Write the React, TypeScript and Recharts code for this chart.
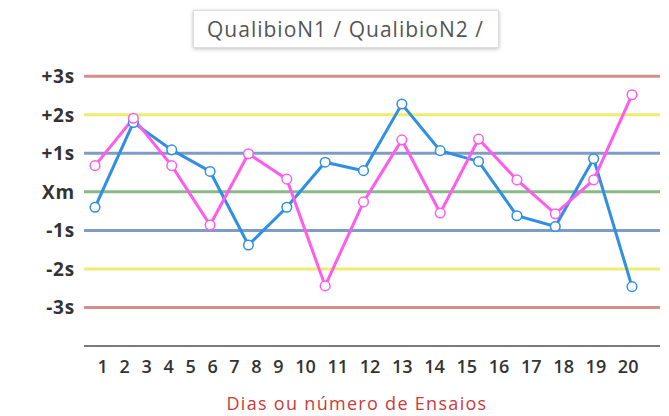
import React from 'react';
import { LineChart, Line, XAxis, YAxis, ReferenceLine, Legend } from 'recharts';

const runs = [1, 2, 3, 4, 5, 6, 7, 8, 9, 10, 11, 12, 13, 14, 15];
const qualibioN1 = [-0.4, 1.8, 1.09, 0.53, -1.38, -0.4, 0.77, 0.55, 2.28, 1.07, 0.79, -0.62, -0.9, 0.86, -2.46];
const qualibioN2 = [0.68, 1.91, 0.68, -0.86, 0.99, 0.33, -2.44, -0.26, 1.35, -0.55, 1.37, 0.31, -0.57, 0.31, 2.52];
const dayLabels = ['1', '2', '3', '4', '5', '6', '7', '8', '9', '10', '11', '12', '13', '14', '15', '16', '17', '18', '19', '20'];
const sdValues = [-3, -2, -1, 0, 1, 2, 3];
const sdLabels = ['-3s', '-2s', '-1s', 'Xm', '+1s', '+2s', '+3s'];
const sdColors = ['#d98c8c', '#f0ec72', '#7f9dc4', '#88ba88', '#7f9dc4', '#f0ec72', '#d98c8c'];
const seriesNames = ['QualibioN1', 'QualibioN2'];
const xTitle = 'Dias ou número de Ensaios';

const data = runs.map((r, i) => ({ run: r, n1: qualibioN1[i], n2: qualibioN2[i] }));
const dayLabelText = dayLabels.join(' ');

const FONT = '"Open Sans", "Noto Sans", sans-serif';

const DayTick = (props: any) => {
  const { x, y, payload } = props;
  return (
    <text
      x={x}
      y={y + 19}
      textAnchor="middle"
      fontFamily={FONT}
      fontSize={18}
      fontWeight={600}
      fill="#333"
      style={{ wordSpacing: '7px' }}
    >
      {payload.value}
    </text>
  );
};

const LegendBox = (props: any) => {
  const names = (props.payload || []).map((p: any) => p.value);
  return (
    <div
      style={{
        display: 'inline-block',
        background: '#fff',
        border: '1px solid #ddd',
        boxShadow: '0 1px 4px rgba(0,0,0,0.25)',
        padding: '5px 14px 5px 13px',
        fontFamily: FONT,
        fontSize: 21,
        letterSpacing: '1px',
        color: '#555',
        whiteSpace: 'nowrap',
        lineHeight: '26px',
      }}
    >
      {names.join(' / ') + ' /'}
    </div>
  );
};

export default function App() {
  return (
    <div style={{ position: 'absolute', left: 0, top: 0, width: 669, height: 416, background: '#fff' }}>
      <LineChart width={669} height={416} data={data} margin={{ top: 57, right: 9, bottom: 30, left: 0 }}>
        <XAxis xAxisId="pts" dataKey="run" hide padding={{ left: 11, right: 28 }} />
        <XAxis
          xAxisId="labels"
          dataKey={() => dayLabelText}
          allowDuplicatedCategory={false}
          height={40}
          padding={{ left: 0, right: 8 }}
          axisLine={{ stroke: '#7a7a7a', strokeWidth: 2 }}
          tickLine={false}
          tick={<DayTick />}
          label={{ value: xTitle, position: 'bottom', offset: 11, dx: -15, fill: '#cc3a3a', fontSize: 18, letterSpacing: 1.3, fontFamily: FONT }}
        />
        <YAxis
          type="number"
          domain={[-4, 3.5]}
          ticks={sdValues}
          width={84}
          axisLine={false}
          tickLine={false}
          tickMargin={3}
          tickFormatter={(v: number) => sdLabels[sdValues.indexOf(v)]}
          tick={{ fill: '#333', fontSize: 19, fontWeight: 700, fontFamily: FONT, letterSpacing: 0.8 }}
        />
        {sdValues.map((v, i) => (
          <ReferenceLine key={v} y={v} xAxisId="pts" stroke={sdColors[i]} strokeWidth={3} />
        ))}
        <Legend
          layout="horizontal"
          verticalAlign="middle"
          align="center"
          content={<LegendBox />}
          wrapperStyle={{ position: 'absolute', top: 10, left: 193, width: 'auto' }}
        />
        <Line
          xAxisId="pts"
          dataKey="n1"
          name={seriesNames[0]}
          stroke="#2f8fe3"
          strokeWidth={3}
          dot={{ r: 4.8, fill: '#fff', stroke: '#2f8fe3', strokeWidth: 1.5 }}
          isAnimationActive={false}
        />
        <Line
          xAxisId="pts"
          dataKey="n2"
          name={seriesNames[1]}
          stroke="#ff5cee"
          strokeWidth={3}
          dot={{ r: 4.8, fill: '#fff', stroke: '#ff5cee', strokeWidth: 1.5 }}
          isAnimationActive={false}
        />
      </LineChart>
    </div>
  );
}
